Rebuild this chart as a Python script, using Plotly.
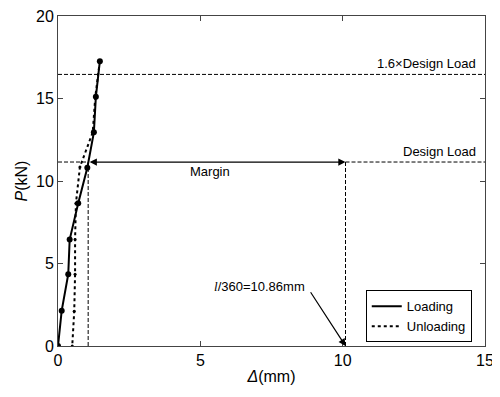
import plotly.graph_objects as go

# Data
load_x = [0.0, 0.13, 0.36, 0.41, 0.71, 1.03, 1.26, 1.33, 1.47]
load_y = [0.0, 2.14, 4.35, 6.45, 8.65, 10.8, 12.95, 15.1, 17.26]
unload_x = [1.47, 1.31, 1.22, 0.77, 0.63, 0.60, 0.60, 0.57, 0.50]
unload_y = [17.26, 15.1, 12.95, 10.85, 8.65, 6.45, 4.35, 2.1, 0.0]

design_load = 11.15
factored_load = 16.46
defl_at_design = 1.06
defl_limit = 10.1

x_ticks = [0, 5, 10, 15]
y_ticks = [0, 5, 10, 15, 20]

FONT = "Liberation Sans, Arial, sans-serif"
dash = "4px,2px"

fig = go.Figure()

# reference lines
fig.add_trace(go.Scatter(x=[0, 15], y=[factored_load, factored_load], mode="lines",
                         line=dict(color="black", width=1, dash=dash), showlegend=False, hoverinfo="skip"))
fig.add_trace(go.Scatter(x=[0, defl_at_design], y=[design_load, design_load], mode="lines",
                         line=dict(color="black", width=1, dash=dash), showlegend=False, hoverinfo="skip"))
fig.add_trace(go.Scatter(x=[defl_limit, 15], y=[design_load, design_load], mode="lines",
                         line=dict(color="black", width=1, dash=dash), showlegend=False, hoverinfo="skip"))
fig.add_trace(go.Scatter(x=[defl_at_design, defl_at_design], y=[0, design_load], mode="lines",
                         line=dict(color="black", width=1, dash=dash), showlegend=False, hoverinfo="skip"))
fig.add_trace(go.Scatter(x=[defl_limit, defl_limit], y=[0, design_load], mode="lines",
                         line=dict(color="black", width=1, dash=dash), showlegend=False, hoverinfo="skip"))

# data series
fig.add_trace(go.Scatter(x=load_x, y=load_y, mode="lines", name="Loading",
                         line=dict(color="black", width=2)))
fig.add_trace(go.Scatter(x=unload_x, y=unload_y, mode="lines", name="Unloading",
                         line=dict(color="black", width=2, dash="dot")))
fig.add_trace(go.Scatter(x=load_x, y=load_y, mode="markers", showlegend=False,
                         marker=dict(color="black", size=6), hoverinfo="skip"))
fig.add_trace(go.Scatter(x=unload_x, y=unload_y, mode="markers", showlegend=False,
                         marker=dict(color="black", size=3), hoverinfo="skip"))

annotations = [
    # Margin double arrow
    dict(x=defl_limit, y=design_load, ax=defl_at_design, ay=design_load, xref="x", yref="y",
         axref="x", ayref="y", text="", showarrow=True, arrowhead=2, arrowside="end+start",
         arrowsize=1.2, arrowwidth=1.2, arrowcolor="black"),
    dict(x=5.33, y=10.55, xref="x", yref="y", text="Margin", showarrow=False,
         font=dict(size=13, family=FONT, color="black")),
    dict(x=14.75, y=factored_load, xref="x", yref="y", text="1.6×Design Load", showarrow=False,
         xanchor="right", yanchor="bottom", yshift=1, font=dict(size=13, family=FONT, color="black")),
    dict(x=14.75, y=design_load, xref="x", yref="y", text="Design Load", showarrow=False,
         xanchor="right", yanchor="bottom", yshift=1, font=dict(size=13, family=FONT, color="black")),
    # l/360 arrow
    dict(x=defl_limit, y=0, ax=8.84, ay=3.35, xref="x", yref="y", axref="x", ayref="y",
         text="", showarrow=True, arrowhead=2, arrowsize=1.2, arrowwidth=1.2, arrowcolor="black"),
    dict(x=8.75, y=3.6, xref="x", yref="y", xanchor="right", yanchor="middle",
         text="<span style='font-family:Liberation Serif'><i>l</i></span>/360=10.86mm", showarrow=False,
         font=dict(size=13, family=FONT, color="black")),
]

fig.update_layout(
    width=492, height=389,
    margin=dict(l=50, r=15, t=8, b=51, autoexpand=False),
    paper_bgcolor="white", plot_bgcolor="white",
    font=dict(family=FONT, color="black"),
    annotations=annotations,
    legend=dict(x=0.969, y=0.011, xanchor="right", yanchor="bottom",
                bordercolor="black", borderwidth=1, bgcolor="white",
                font=dict(size=13, family=FONT, color="black"),
                tracegroupgap=0, itemwidth=30),
    xaxis=dict(range=[0, 15], tickvals=x_ticks, ticks="inside", ticklen=5, tickcolor="#444",
               showline=True, linecolor="#444", linewidth=1, mirror="allticks", showgrid=False,
               zeroline=False, automargin=False, ticklabeloverflow="allow",
               tickfont=dict(size=16, family=FONT, color="black"),
               title=dict(text="<i>Δ</i>(mm)", font=dict(size=16, family=FONT, color="black"), standoff=2)),
    yaxis=dict(range=[0, 20], tickvals=y_ticks, ticks="inside", ticklen=5, tickcolor="#444",
               showline=True, linecolor="#444", linewidth=1, mirror="allticks", showgrid=False,
               zeroline=False, automargin=False, ticklabeloverflow="allow",
               tickfont=dict(size=16, family=FONT, color="black"),
               title=dict(text="<i>P</i>(kN)", font=dict(size=16, family=FONT, color="black"), standoff=4)),
)

fig.write_html("out.html")
